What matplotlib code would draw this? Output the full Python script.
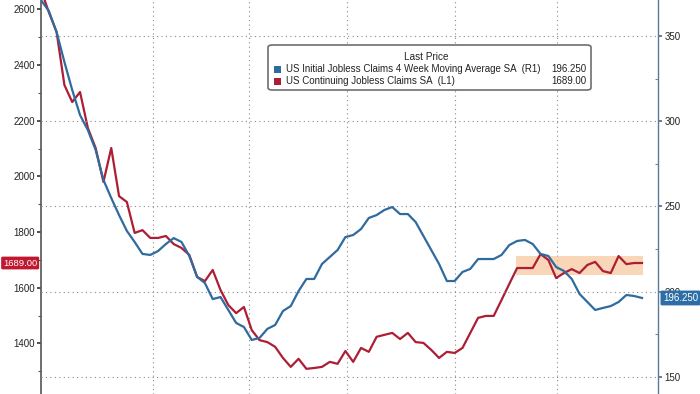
import matplotlib
matplotlib.use("Agg")
import matplotlib.pyplot as plt
from matplotlib.patches import FancyBboxPatch, Rectangle
import matplotlib.transforms as mtransforms

plt.rcParams['font.family'] = ['Liberation Sans', 'DejaVu Sans']

# ---- data (weekly observations) ----
initial_claims_4wma = [371, 364.7, 352.3, 334.7, 318.3, 303.6, 294.8, 283.1, 265.5, 254.9,
                       244.9, 235.6, 229.1, 222.1, 221.5, 223.8, 227.9, 231.4, 229.1, 220.9,
                       208.6, 205.0, 195.6, 196.8, 189.2, 181.6, 179.2, 171.6, 172.8, 178.1,
                       180.4, 188.6, 191.5, 200.3, 207.4, 207.4, 216.2, 220.3, 224.4, 232.0,
                       233.2, 236.7, 243.2, 244.9, 247.9, 249.6, 245.5, 245.5, 240.8, 232.6,
                       224.4, 216.2, 206.2, 206.2, 211.5, 213.3, 219.1, 219.1, 219.1, 221.5,
                       227.3, 229.7, 230.3, 227.9, 222.1, 220.9, 214.4, 212.1, 207.4, 198.6,
                       193.9, 189.2, 190.4, 191.5, 193.9, 198.0, 197.4, 196.25]
continuing_claims = [2670, 2590, 2518, 2328, 2267, 2303, 2174, 2102, 1980, 2102,
                     1929, 1908, 1797, 1807, 1779, 1779, 1786, 1757, 1743, 1718,
                     1639, 1624, 1664, 1592, 1538, 1509, 1531, 1448, 1412, 1405,
                     1388, 1348, 1316, 1345, 1309, 1312, 1316, 1334, 1327, 1373,
                     1334, 1384, 1370, 1424, 1431, 1438, 1416, 1438, 1405, 1402,
                     1377, 1348, 1370, 1366, 1384, 1438, 1492, 1499, 1499, 1556,
                     1614, 1671, 1671, 1671, 1721, 1700, 1635, 1653, 1667, 1653,
                     1682, 1693, 1660, 1653, 1714, 1685, 1689, 1689]
quarter_marks = [14.3, 26.6, 39.2, 53.0, 66.1]
left_ticks = [1400, 1600, 1800, 2000, 2200, 2400, 2600]
left_minor = [1300, 1500, 1700, 1900, 2100, 2300, 2500]
right_ticks = [150, 200, 250, 300, 350]
right_minor = [175, 225, 275, 325]
highlight_x = [60.9, 77.1]
highlight_y = [1646, 1714]
label_blue = "US Initial Jobless Claims 4 Week Moving Average SA  (R1)"
label_red = "US Continuing Jobless Claims SA  (L1)"

BLUE = '#2f6b9e'
RED = '#ad1e35'
GRID = '#8a8a8a'

x = list(range(len(continuing_claims)))

fig = plt.figure(figsize=(7, 3.94), dpi=100)
ax = fig.add_axes([41/700, 0, 617/700, 1])
ax2 = ax.twinx()

# highlight box
ax.fill_between(highlight_x, highlight_y[0], highlight_y[1], color='#f7c59a', alpha=0.7,
                linewidth=0, zorder=1)
ax.plot(x, continuing_claims, color=RED, lw=1.6, zorder=3, solid_joinstyle='round')
ax2.plot(x, initial_claims_4wma, color=BLUE, lw=1.6, zorder=3, solid_joinstyle='round')

# x grid
ax.set_xticks(quarter_marks)
ax.tick_params(axis='x', length=0, labelbottom=False)
ax.grid(axis='x', color=GRID, linestyle=(0, (1, 3)), linewidth=0.8)
ax.set_axisbelow(True)

# left axis
ax.set_yticks(left_ticks)
ax.set_yticks(left_minor, minor=True)
ax.tick_params(axis='y', which='major', direction='out', length=3, width=1.2,
               color='#333333', labelsize=7, labelcolor='#222222', pad=1.5)
ax.tick_params(axis='y', which='minor', direction='out', length=2, width=0.8, color='#555555')
ax.grid(axis='y', visible=False)

# right axis
ax2.set_yticks(right_ticks)
ax2.set_yticks(right_minor, minor=True)
ax2.tick_params(axis='y', which='major', direction='out', length=3, width=1.2,
                color='#4a6a8a', labelsize=7, labelcolor='#222222', pad=1.5)
ax2.tick_params(axis='y', which='minor', direction='in', length=2, width=0.8, color='#6a8aa8')
ax2.grid(axis='y', color=GRID, linestyle=(0, (1, 3)), linewidth=0.8, zorder=0)

# limits (after ticks so they are not expanded)
ax.set_xlim(0, 79.05)
ax.set_ylim(1218.6, 2633.4)
ax2.set_ylim(139.9, 371.1)

for a in (ax, ax2):
    a.spines['top'].set_visible(False)
    a.spines['bottom'].set_visible(False)
ax.spines['right'].set_visible(False)
ax2.spines['left'].set_visible(False)
ax.spines['left'].set_color('#555555')
ax.spines['left'].set_linewidth(1.2)
ax2.spines['right'].set_color('#5a7a98')
ax2.spines['right'].set_linestyle((0, (2, 1)))
ax2.spines['right'].set_linewidth(1.0)

# last value tags
tl = mtransforms.blended_transform_factory(ax.transAxes, ax.transData)
ax.text(-0.006, continuing_claims[-1], f"{continuing_claims[-1]:.2f}", transform=tl,
        ha='right', va='center', fontsize=6.8, color='white', zorder=10, clip_on=False,
        bbox=dict(boxstyle='round,pad=0.2,rounding_size=0.15', fc='#c0182f', ec='none'))
tr = mtransforms.blended_transform_factory(ax2.transAxes, ax2.transData)
ax2.text(1.008, initial_claims_4wma[-1], f"{initial_claims_4wma[-1]:.3f}", transform=tr,
         ha='left', va='center', fontsize=7.0, color='white', zorder=10, clip_on=False,
         bbox=dict(boxstyle='round,pad=0.25,rounding_size=0.15', fc='#2e6ea6', ec='none'))

# legend box (manual, Bloomberg style)
W, H = 700, 394
def fx(px):
    return px / W
def fy(py):
    return 1 - py / H

box = FancyBboxPatch((fx(268), fy(90)), fx(591) - fx(268), fy(45) - fy(90),
                     boxstyle='round,pad=0,rounding_size=0.006', transform=fig.transFigure,
                     fc='white', ec='#6e6e6e', lw=1.2, zorder=20)
fig.patches.append(box)
fig.text(fx(426), fy(57), "Last Price", ha='center', va='center', fontsize=7.2,
         color='#222222', zorder=21)
rows = [(label_blue, f"{initial_claims_4wma[-1]:.3f}", BLUE, 69),
        (label_red, f"{continuing_claims[-1]:.2f}", RED, 81)]
for lab, val, col, yy in rows:
    fig.patches.append(Rectangle((fx(274), fy(yy + 3.5)), fx(7), 7 / H,
                                 transform=fig.transFigure, fc=col, ec='none', zorder=21))
    fig.text(fx(286), fy(yy), lab, ha='left', va='center', fontsize=7.0,
             color='#222222', zorder=21)
    fig.text(fx(586), fy(yy), val, ha='right', va='center', fontsize=7.0,
             color='#222222', zorder=21)

fig.savefig('out.png', dpi=100)
